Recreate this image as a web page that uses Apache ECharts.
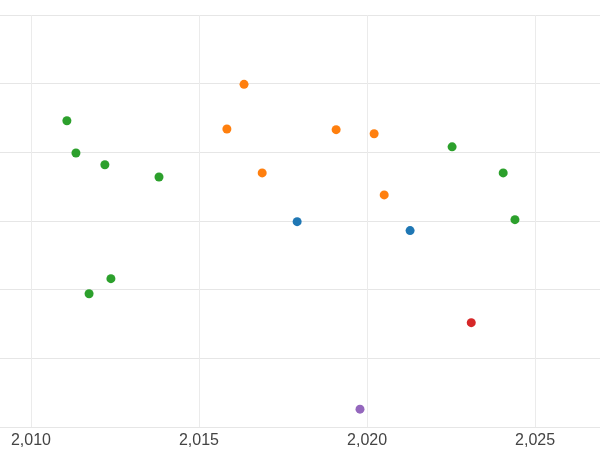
<!DOCTYPE html>
<html>
<head>
<meta charset="utf-8">
<style>html,body{margin:0;padding:0;background:#fff}#chart{width:600px;height:450px}</style>
<script src="https://cdn.jsdelivr.net/npm/echarts@6/dist/echarts.min.js"></script>
</head>
<body>
<div id="chart"></div>
<script>
var xTicks = [2010, 2015, 2020, 2025];
var greenPts = [[2011.07,4.46],[2011.34,3.99],[2012.2,3.82],[2013.81,3.64],[2011.73,1.94],[2012.38,2.16],[2022.53,4.08],[2024.05,3.70],[2024.4,3.02]];
var orangePts = [[2016.34,4.99],[2015.83,4.34],[2016.88,3.70],[2019.08,4.33],[2020.21,4.27],[2020.51,3.38]];
var bluePts = [[2017.92,2.99],[2021.28,2.86]];
var redPts = [[2023.1,1.52]];
var purplePts = [[2019.79,0.26]];

var chart = echarts.init(document.getElementById('chart'));
function s(data, color) {
	return { type: 'scatter', data: data, symbolSize: 9, itemStyle: { color: color, opacity: 1 } };
}
chart.setOption({
	animation: false,
	grid: { left: 0, right: 0, top: 15, bottom: 23 },
	xAxis: {
		type: 'value', min: 2009.08, max: 2026.93,
		axisLine: { show: false }, axisTick: { show: false, customValues: xTicks },
		axisLabel: { customValues: xTicks, fontSize: 16, color: '#444', margin: 6 },
		splitLine: { show: true, lineStyle: { color: '#ebebeb' } }
	},
	yAxis: {
		type: 'value', min: 0, max: 6, interval: 1,
		axisLine: { show: false }, axisTick: { show: false }, axisLabel: { show: false },
		splitLine: { lineStyle: { color: '#e6e6e6' } }
	},
	series: [
		s(greenPts, '#2ca02c'), s(orangePts, '#ff7f0e'), s(bluePts, '#1f77b4'),
		s(redPts, '#d62728'), s(purplePts, '#9467bd')
	]
});
</script>
</body>
</html>
